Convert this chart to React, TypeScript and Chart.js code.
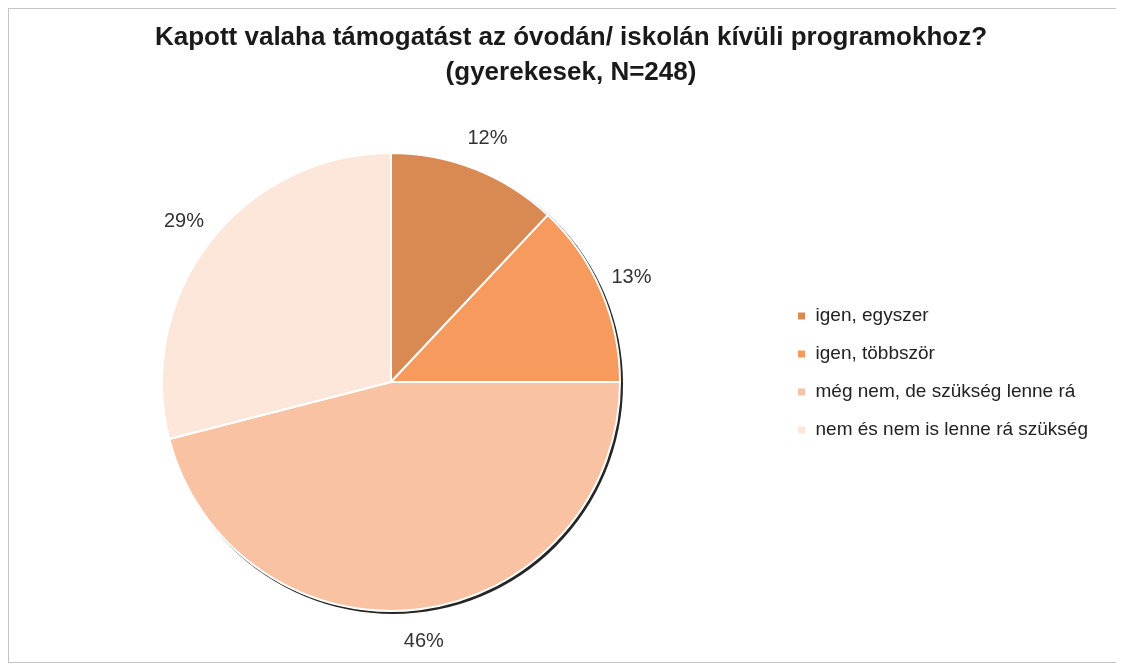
import React, { useEffect, useRef } from "react";
import { Chart, registerables } from "chart.js";

Chart.register(...registerables);

const TITLE_LINES = [
  "Kapott valaha támogatást az óvodán/ iskolán kívüli programokhoz?",
  "(gyerekesek, N=248)",
];
const CATEGORIES = [
  "igen, egyszer",
  "igen, többször",
  "még nem, de szükség lenne rá",
  "nem és nem is lenne rá szükség",
];
const PERCENTAGES = [12, 13, 46, 29];
const COLORS = ["#D98A52", "#F69A5E", "#F9C3A3", "#FDE7DB"];

const FONT = "'Liberation Sans', Arial, Helvetica, sans-serif";

// Centred two-line title drawn across the whole canvas width
const titlePlugin = {
  id: "centredTitle",
  afterDraw(chart: any, _args: any, opts: any) {
    const ctx = chart.ctx;
    ctx.save();
    ctx.font = `bold ${opts.size}px ${FONT}`;
    ctx.fillStyle = opts.color;
    ctx.textAlign = "center";
    ctx.textBaseline = "middle";
    (opts.lines as string[]).forEach((line, i) =>
      ctx.fillText(line, chart.width / 2, opts.top + i * opts.lineGap)
    );
    ctx.restore();
  },
};

const shadowPlugin = {
  id: "pieShadow",
  beforeDatasetsDraw(chart: any) {
    const arc = chart.getDatasetMeta(0).data[0];
    if (!arc) return;
    const { x, y, outerRadius } = arc.getProps(["x", "y", "outerRadius"], true);
    const ctx = chart.ctx;
    ctx.save();
    ctx.fillStyle = "#262626";
    ctx.beginPath();
    ctx.arc(x + 2, y + 2, outerRadius + 1, 0, Math.PI * 2);
    ctx.fill();
    ctx.restore();
  },
};

const labelPlugin = {
  id: "pctLabels",
  afterDatasetsDraw(chart: any) {
    const ctx = chart.ctx;
    const meta = chart.getDatasetMeta(0);
    const values = chart.data.datasets[0].data as number[];
    ctx.save();
    ctx.font = `20px ${FONT}`;
    ctx.fillStyle = "#333333";
    ctx.textAlign = "center";
    ctx.textBaseline = "middle";
    meta.data.forEach((arc: any, i: number) => {
      const { x, y, startAngle, endAngle, outerRadius } = arc.getProps(
        ["x", "y", "startAngle", "endAngle", "outerRadius"],
        true
      );
      const mid = (startAngle + endAngle) / 2;
      const r = outerRadius + 33;
      ctx.fillText(`${values[i]}%`, x + Math.cos(mid) * r, y + Math.sin(mid) * r);
    });
    ctx.restore();
  },
};

function PieChart() {
  const canvasRef = useRef<HTMLCanvasElement | null>(null);

  useEffect(() => {
    if (!canvasRef.current) return;
    Chart.defaults.font.family = FONT;
    const chart = new Chart(canvasRef.current, {
      type: "pie",
      data: {
        labels: CATEGORIES,
        datasets: [
          {
            data: PERCENTAGES,
            backgroundColor: COLORS,
            borderColor: "#ffffff",
            borderWidth: 2,
          },
        ],
      },
      options: {
        animation: false,
        responsive: true,
        maintainAspectRatio: false,
        events: [],
        layout: { padding: { left: 0, right: 40, top: 143, bottom: 50 } },
        plugins: {
          tooltip: { enabled: false },
          title: { display: false },
          centredTitle: {
            lines: TITLE_LINES,
            size: 26,
            color: "#1a1a1a",
            top: 29,
            lineGap: 35,
          },
          legend: {
            position: "right",
            align: "start",
            title: {
              display: true,
              text: "",
              padding: { top: 121, bottom: 0 },
              font: { size: 12, lineHeight: 1.2 },
            },
            labels: {
              boxWidth: 9,
              boxHeight: 9,
              padding: 19,
              color: "#222222",
              font: { family: FONT, size: 19 },
            },
          },
        } as any,
      },
      plugins: [titlePlugin, shadowPlugin, labelPlugin],
    });
    return () => chart.destroy();
  }, []);

  return (
    <div
      style={{
        position: "relative",
        width: 1116,
        height: 655,
        boxSizing: "border-box",
        border: "1px solid #c4c4c4",
        borderRight: "none",
        background: "#ffffff",
      }}
    >
      <div style={{ position: "absolute", left: -5, top: 0, width: 1134, height: 653 }}>
        <canvas ref={canvasRef} />
      </div>
    </div>
  );
}

export default function App() {
  return (
    <>
      <style>{`html,body{overflow:hidden;}`}</style>
      <PieChart />
    </>
  );
}
